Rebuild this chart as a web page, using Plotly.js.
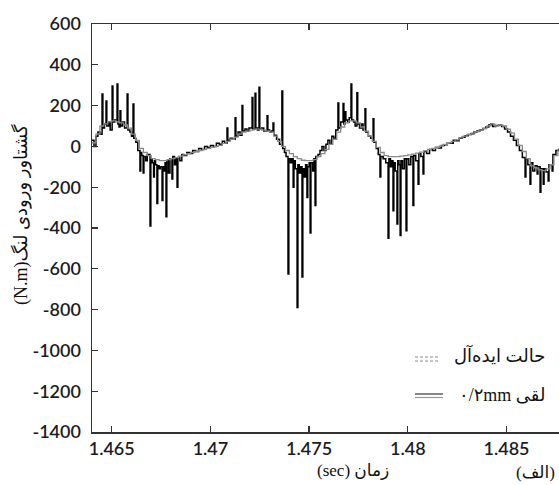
<!DOCTYPE html>
<html>
<head>
<meta charset="utf-8">
<script src="https://cdn.plot.ly/plotly-3.0.1.min.js"></script>
<style>
  html, body { margin: 0; padding: 0; overflow: hidden; background: #fff; }
  #chart { width: 600px; height: 485px; }
</style>
</head>
<body>
<div id="chart"></div>
<script>
// Crank input torque (N.m) over time (sec): ideal case vs. 0.2 mm backlash

// Ideal case
const idealTime = [
  1.4640, 1.4642, 1.4644, 1.4646, 1.4648, 1.4650, 1.4652, 1.4654, 1.4656, 1.4658,
  1.4660, 1.4662, 1.4664, 1.4666, 1.4668, 1.4670, 1.4672, 1.4674, 1.4676, 1.4678,
  1.4680, 1.4682, 1.4684, 1.4686, 1.4688, 1.4690, 1.4692, 1.4694, 1.4696, 1.4698,
  1.4700, 1.4702, 1.4704, 1.4706, 1.4708, 1.4710, 1.4712, 1.4714, 1.4716, 1.4718,
  1.4720, 1.4722, 1.4724, 1.4726, 1.4728, 1.4730, 1.4732, 1.4734, 1.4736, 1.4738,
  1.4740, 1.4742, 1.4744, 1.4746, 1.4748, 1.4750, 1.4752, 1.4754, 1.4756, 1.4758,
  1.4760, 1.4762, 1.4764, 1.4766, 1.4768, 1.4770, 1.4772, 1.4774, 1.4776, 1.4778,
  1.4780, 1.4782, 1.4784, 1.4786, 1.4788, 1.4790, 1.4792, 1.4794, 1.4796, 1.4798,
  1.4800, 1.4802, 1.4804, 1.4806, 1.4808, 1.4810, 1.4812, 1.4814, 1.4816, 1.4818,
  1.4820, 1.4822, 1.4824, 1.4826, 1.4828, 1.4830, 1.4832, 1.4834, 1.4836, 1.4838,
  1.4840, 1.4842, 1.4844, 1.4846, 1.4848, 1.4850, 1.4852, 1.4854, 1.4856, 1.4858,
  1.4860, 1.4862, 1.4864, 1.4866, 1.4868, 1.4870, 1.4872, 1.4874, 1.4876
];
const idealTorque = [
   18,  60, 100, 110, 120, 125, 120, 115, 105,  90,
   60,  30, -10, -30, -45, -60, -65, -70, -70, -65,
  -60, -55, -48, -42, -36, -30, -25, -20, -15, -10,
   -5,   0,   5,  15,  25,  35,  45,  60,  70,  75,
   80,  85,  85,  80,  75,  70,  50,  25,   0, -20,
  -35, -50, -60, -68, -70, -70, -65, -50, -35, -15,
   10,  35,  70,  95, 115, 125, 125, 115,  95,  75,
   50,  25,  -5, -30, -45, -50, -50, -50, -48, -45,
  -42, -38, -33, -28, -22, -15, -10,  -5,   2,  10,
   18,  25,  32,  42,  50,  58,  65,  72,  80,  88,
  100, 110, 100, 105, 100,  85,  65,  35,   5, -25,
  -60, -95,-105,-115,-119,-110, -90, -45, -15
];

// 0.2 mm backlash
const backlashTime = [
  1.46400, 1.46410, 1.46420, 1.46430, 1.46440, 1.46451, 1.46455, 1.46463, 1.46471, 1.46475,
  1.46485, 1.46492, 1.46502, 1.46506, 1.46515, 1.46527, 1.46531, 1.46537, 1.46542, 1.46546,
  1.46555, 1.46565, 1.46578, 1.46582, 1.46592, 1.46600, 1.46608, 1.46612, 1.46622, 1.46632,
  1.46643, 1.46647, 1.46652, 1.46659, 1.46663, 1.46672, 1.46680, 1.46694, 1.46698, 1.46705,
  1.46712, 1.46716, 1.46722, 1.46729, 1.46733, 1.46740, 1.46746, 1.46755, 1.46759, 1.46765,
  1.46770, 1.46775, 1.46779, 1.46787, 1.46795, 1.46805, 1.46809, 1.46818, 1.46825, 1.46831,
  1.46835, 1.46845, 1.46855, 1.46865, 1.46880, 1.46895, 1.46910, 1.46925, 1.46940, 1.46955,
  1.46970, 1.46985, 1.47000, 1.47015, 1.47030, 1.47045, 1.47060, 1.47072, 1.47084, 1.47088,
  1.47100, 1.47112, 1.47125, 1.47129, 1.47140, 1.47150, 1.47160, 1.47164, 1.47175, 1.47185,
  1.47195, 1.47211, 1.47215, 1.47226, 1.47230, 1.47238, 1.47246, 1.47250, 1.47260, 1.47270,
  1.47287, 1.47291, 1.47300, 1.47310, 1.47317, 1.47321, 1.47335, 1.47350, 1.47362, 1.47366,
  1.47375, 1.47383, 1.47393, 1.47397, 1.47405, 1.47412, 1.47419, 1.47423, 1.47430, 1.47439,
  1.47443, 1.47450, 1.47457, 1.47464, 1.47468, 1.47475, 1.47482, 1.47489, 1.47493, 1.47500,
  1.47505, 1.47509, 1.47518, 1.47524, 1.47530, 1.47534, 1.47545, 1.47555, 1.47565, 1.47575,
  1.47585, 1.47595, 1.47605, 1.47615, 1.47625, 1.47635, 1.47646, 1.47650, 1.47660, 1.47672,
  1.47676, 1.47682, 1.47686, 1.47695, 1.47703, 1.47712, 1.47716, 1.47725, 1.47733, 1.47742,
  1.47746, 1.47755, 1.47765, 1.47773, 1.47783, 1.47787, 1.47800, 1.47812, 1.47824, 1.47828,
  1.47840, 1.47850, 1.47859, 1.47863, 1.47875, 1.47888, 1.47900, 1.47904, 1.47912, 1.47918,
  1.47925, 1.47929, 1.47936, 1.47945, 1.47949, 1.47955, 1.47961, 1.47965, 1.47973, 1.47982,
  1.47991, 1.47995, 1.48005, 1.48015, 1.48026, 1.48030, 1.48040, 1.48052, 1.48056, 1.48066,
  1.48077, 1.48081, 1.48095, 1.48110, 1.48125, 1.48140, 1.48155, 1.48170, 1.48185, 1.48200,
  1.48215, 1.48230, 1.48245, 1.48260, 1.48275, 1.48290, 1.48305, 1.48320, 1.48335, 1.48350,
  1.48365, 1.48380, 1.48395, 1.48410, 1.48420, 1.48430, 1.48445, 1.48460, 1.48475, 1.48490,
  1.48505, 1.48520, 1.48535, 1.48550, 1.48565, 1.48580, 1.48594, 1.48598, 1.48608, 1.48619,
  1.48623, 1.48633, 1.48643, 1.48655, 1.48659, 1.48670, 1.48674, 1.48686, 1.48690, 1.48700,
  1.48711, 1.48715, 1.48731, 1.48735, 1.48750, 1.48766
];
const backlashTorque = [
    30,    0,   50,   70,   60,  257,   90,  110,  223,  100,
   120,   80,  296,  120,  130,  306,  110,   95,  175,  100,
   120,   90,  257,   80,   70,   50,  208,   40,   20,  -20,
  -120,  -30,  -45, -130,  -50,  -70,  -40, -390,  -60,  -80,
  -150,  -70,  -90, -280,  -95, -110, -100, -265, -100, -120,
   -80, -345,  -70, -130,  -60, -160,  -50,  -90,  -60, -200,
   -55,  -70,  -40,  -45,  -30,  -35,  -20,  -25,  -10,  -15,
     0,   -5,    5,    0,   15,   10,   25,   15,   90,   30,
    40,   35,  140,   50,   70,   55,  200,   75,   85,   75,
    90,  240,   85,  260,   90,   80,  290,   85,   90,   75,
   150,   80,   70,   75,  115,   55,   35,   10,  272,  -10,
   -30,  -50, -625,  -60,  -80,  -60, -200,  -70, -110, -790,
   -90, -130, -100, -640, -110, -150,  -90, -250, -100,  -80,
  -425,  -80, -120,  -60, -290,  -50,  -40,  -20,    0,  -20,
    10,   30,   10,   50,   40,   80,  213,   90,  120,  210,
   110,  170,  130,  120,  140,  306,  130,  120,  100,  263,
   110,   90,  110,   80,  184,   70,   50,   40,  135,   20,
   -10,  -40, -150,  -50,  -60,  -80, -450,  -60, -100,  -70,
  -315,  -80, -120, -380,  -70,  -90, -437,  -70, -110,  -60,
  -413,  -60,  -90,  -50, -290,  -45,  -70, -185,  -35,  -50,
  -135,  -25,  -35,  -15,  -20,   -5,   -8,    5,    8,   18,
    15,   30,   28,   40,   45,   52,   58,   62,   70,   75,
    80,   88,   95,  105,  110,   98,  102,  105,   98,   85,
    70,   50,   30,    5,  -20,  -55, -150,  -60,  -90, -185,
   -80, -120,  -95, -135, -100, -225, -110, -185, -110, -125,
  -170,  -90, -120,  -40,  -20,  -10
];

// Axis ticks
const xTickVals = [1.465, 1.47, 1.475, 1.48, 1.485];
const xTickLabels = ['1.465', '1.47', '1.475', '1.48', '1.485'];
const yTickVals = [600, 400, 200, 0, -200, -400, -600, -800, -1000, -1200, -1400];
const yTickLabels = ['600', '400', '200', '0', '-200', '-400', '-600', '-800', '-1000', '-1200', '-1400'];

// Persian labels (RLE ... PDF keeps right-to-left order with the Latin units)
const RLE = '\u202B', PDF = '\u202C';
const yTitle = 'گشتاور ورودی لنگ(N.m)';
const xTitle = 'زمان (sec)';
const panelLabel = '(الف)';
const idealName = 'حالت ایده‌آل';
const backlashName = 'لقی ۰/۲mm';

const W = 600, H = 485;
const M = { l: 92, r: 0, t: 24, b: 53 };
const plotW = W - M.l - M.r, plotH = H - M.t - M.b;
const px = x => (x - M.l) / plotW;      // page px -> paper x
const py = y => (H - M.b - y) / plotH;  // page px -> paper y

const tickFont = { family: 'Lato, "Open Sans", sans-serif', size: 18, color: '#1c1c24', weight: 600 };
const faFont = { family: '"Liberation Serif", "DejaVu Sans", serif', size: 17, color: '#111' };

const traces = [
  {
    x: backlashTime, y: backlashTorque, type: 'scatter', mode: 'lines',
    name: backlashName, line: { color: '#000', width: 1.5, shape: 'hv' }
  },
  {
    x: idealTime, y: idealTorque, type: 'scatter', mode: 'lines',
    name: idealName, line: { color: '#8a8a8a', width: 1.3, shape: 'hv' }
  }
];

const layout = {
  width: W, height: H,
  margin: M,
  paper_bgcolor: '#fff', plot_bgcolor: '#fff',
  showlegend: false,
  xaxis: {
    range: [1.464, 1.464 + plotW / 19740],
    tickvals: xTickVals, ticktext: xTickLabels,
    showgrid: false, zeroline: false,
    showline: true, linecolor: '#333', linewidth: 1.5, mirror: 'ticks',
    ticks: 'inside', ticklen: 6, tickwidth: 1.3, tickcolor: '#333',
    tickfont: tickFont
  },
  yaxis: {
    range: [-1400, 600],
    tickvals: yTickVals, ticktext: yTickLabels,
    showgrid: false, zeroline: false,
    showline: true, linecolor: '#333', linewidth: 1.5, mirror: 'ticks',
    ticks: 'inside', ticklen: 6, tickwidth: 1.3, tickcolor: '#333',
    tickfont: tickFont, ticklabelstandoff: 6
  },
  annotations: [
    { xref: 'paper', yref: 'paper', x: px(21), y: py(215), text: RLE + yTitle + PDF,
      textangle: -90, showarrow: false, xanchor: 'center', yanchor: 'middle', font: { ...faFont, size: 18 } },
    { xref: 'paper', yref: 'paper', x: px(353), y: py(470), text: RLE + xTitle + PDF,
      showarrow: false, xanchor: 'center', yanchor: 'middle', font: faFont },
    { xref: 'paper', yref: 'paper', x: px(557), y: py(472), text: RLE + panelLabel + PDF,
      showarrow: false, xanchor: 'right', yanchor: 'middle', font: faFont },
    { xref: 'paper', yref: 'paper', x: px(452), y: py(355), text: RLE + idealName + PDF,
      showarrow: false, xanchor: 'left', yanchor: 'middle', font: { ...faFont, size: 18 } },
    { xref: 'paper', yref: 'paper', x: px(457), y: py(395), text: RLE + backlashName + PDF,
      showarrow: false, xanchor: 'left', yanchor: 'middle', font: { ...faFont, size: 18 } }
  ],
  shapes: [
    // legend sample: ideal
    { type: 'line', xref: 'paper', yref: 'paper', x0: px(415), x1: px(438), y0: py(357), y1: py(357),
      line: { color: '#8a8a8a', width: 1, dash: '3px,2px' } },
    { type: 'line', xref: 'paper', yref: 'paper', x0: px(415), x1: px(438), y0: py(361), y1: py(361),
      line: { color: '#8a8a8a', width: 1, dash: '3px,2px' } },
    // legend sample: backlash
    { type: 'line', xref: 'paper', yref: 'paper', x0: px(415), x1: px(443), y0: py(394), y1: py(394),
      line: { color: '#333', width: 1.2 } },
    { type: 'line', xref: 'paper', yref: 'paper', x0: px(415), x1: px(443), y0: py(397.5), y1: py(397.5),
      line: { color: '#999', width: 1.2 } }
  ]
};

Plotly.newPlot('chart', traces, layout, { staticPlot: true, displayModeBar: false });
</script>
</body>
</html>
